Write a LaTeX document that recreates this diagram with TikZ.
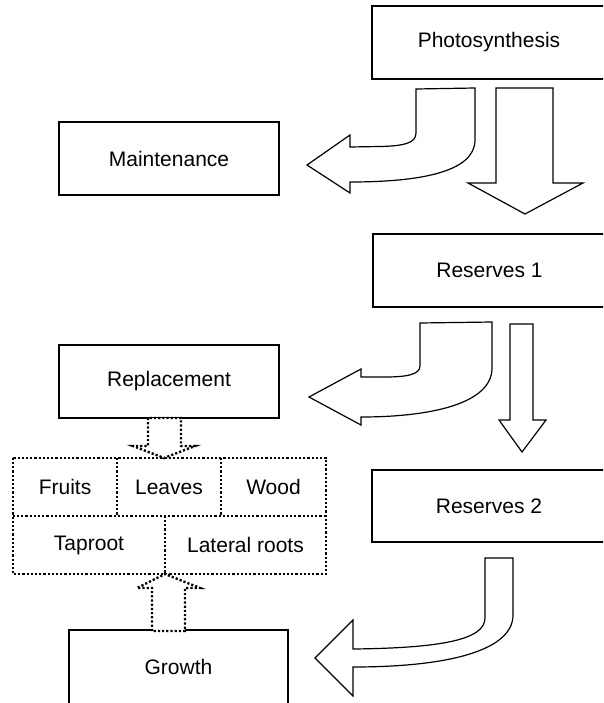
\documentclass[tikz,border=0pt]{standalone}
\usepackage{fontspec}
\setmainfont{Liberation Sans}
\tikzset{
  box/.style={draw, line width=1.3pt, inner sep=0pt, font=\fontsize{21}{24}\selectfont},
  cell/.style={inner sep=0pt, font=\fontsize{21}{24}\selectfont},
  dotline/.style={line width=2.4pt, dash pattern=on 2.2pt off 2pt},
  blockarrow/.style={draw, fill=white, line width=1.2pt, line join=miter},
  dotarrow/.style={draw, fill=white, dotline, line join=miter}
}
\begin{document}
\begin{tikzpicture}[x=1pt,y=-1pt]
\useasboundingbox (0,0) rectangle (603,703);
\clip (0,0) rectangle (603,703);
% solid boxes
\node[box, minimum width=234, minimum height=73] (photo) at (489,42.5) {Photosynthesis};
\node[box, minimum width=220, minimum height=73] (maint) at (169,158.5) {Maintenance};
\node[box, minimum width=233, minimum height=73] (res1) at (489.5,270.5) {Reserves 1};
\node[box, minimum width=220, minimum height=73] (repl) at (169,381.5) {Replacement};
\node[box, minimum width=234, minimum height=72] (res2) at (489,506) {Reserves 2};
\node[box, minimum width=219, minimum height=74] (growth) at (178.5,667) {Growth};
% dotted cells
\node[cell, minimum width=104, minimum height=58] (fruits) at (65,487) {Fruits};
\node[cell, minimum width=104, minimum height=58] (leaves) at (169,487) {Leaves};
\node[cell, minimum width=105, minimum height=58] (wood) at (273.5,487) {Wood};
\node[cell, minimum width=152, minimum height=58] (taproot) at (89,545) {Taproot};
\node[cell, minimum width=161, minimum height=58] (lateral) at (245.5,545) {Lateral roots};
\draw[dotline] (fruits.north west) rectangle (lateral.south east);
\draw[dotline] (taproot.north west) -- (lateral.north east);
\draw[dotline] (fruits.north east) -- (fruits.south east);
\draw[dotline] (leaves.north east) -- (leaves.south east);
\draw[dotline] (taproot.north east) -- (taproot.south east);
% straight block arrows
\draw[blockarrow] (496,88) -- (553,88) -- (553,183) -- (583,183) -- (525,214) -- (468,183) -- (496,183) -- cycle;
\draw[blockarrow] (510,324) -- (533,324) -- (533,420) -- (546,420) -- (522,452) -- (499,420) -- (510,420) -- cycle;
% curved block arrows
\draw[blockarrow] (416,89) -- (475,88) -- (475,140)
  .. controls (475,172) and (420,182) .. (350,182)
  -- (350,193) -- (307,165) -- (350,135) -- (350,147) -- (380,146.5)
  .. controls (404,146) and (416,143) .. (416,133) -- cycle;
\draw[blockarrow] (420,323) -- (492,322) -- (492,368)
  .. controls (492,404) and (430,417) .. (361,417)
  -- (361,425) -- (309,397) -- (361,369) -- (361,377) -- (385,377)
  .. controls (405,377) and (420,375) .. (420,366) -- cycle;
\draw[blockarrow] (485,558) -- (513,558) -- (513,615)
  .. controls (513,650) and (450,667) .. (353,667)
  -- (353,696) -- (315,658) -- (353,620) -- (353,649)
  .. controls (440,648) and (485,640) .. (485,618) -- cycle;
% dotted block arrows
\draw[dotarrow] (148,418) -- (148,446) -- (133,446) -- (164,458) -- (195,446) -- (181,446) -- (181,418) -- cycle;
\draw[dotarrow] (152,631) -- (152,588) -- (137,588) -- (165,574) -- (200,588) -- (185,588) -- (185,631) -- cycle;
\end{tikzpicture}
\end{document}
